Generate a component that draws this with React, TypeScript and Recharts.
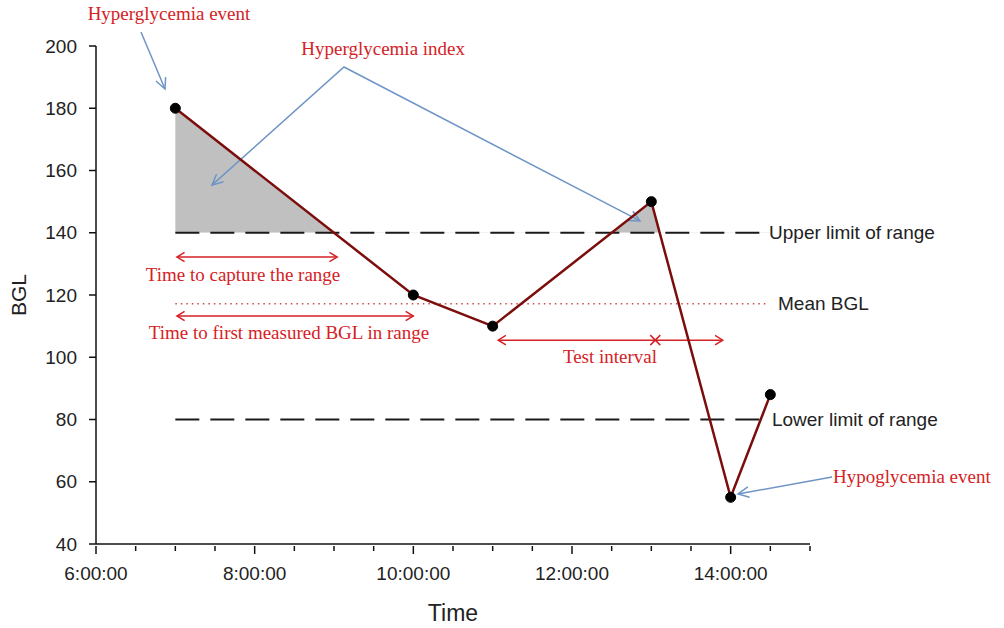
import React from "react";
import {
  LineChart,
  Line,
  XAxis,
  YAxis,
  ReferenceArea,
  ReferenceLine,
} from "recharts";

// measured BGL readings (time in hours of day)
const hours = [7, 10, 11, 13, 14, 14.5];
const bglValues = [180, 120, 110, 150, 55, 88];

const xDomain = [6, 15];
const yDomain = [40, 200];
const xTickHours = [6, 6.5, 7, 7.5, 8, 8.5, 9, 9.5, 10, 10.5, 11, 11.5, 12, 12.5, 13, 13.5, 14, 14.5, 15];
const xTickLabels: Record<number, string> = {
  6: "6:00:00",
  8: "8:00:00",
  10: "10:00:00",
  12: "12:00:00",
  14: "14:00:00",
};
const yTicks = [40, 60, 80, 100, 120, 140, 160, 180, 200];

const upperLimit = 140;
const lowerLimit = 80;
const meanBgl = bglValues.reduce((a, b) => a + b, 0) / bglValues.length;

// annotation anchors, in data units (hours, BGL)
const limitLineSpan = [7, 14.48];
const captureSpan = [7.02, 9.04];
const firstInRangeSpan = [7.02, 10.0];
const testIntervalSpan = [11.07, 13.9];
const testIntervalMark = 13.05;

const data = hours.map((h, i) => ({ time: h, bgl: bglValues[i] }));

const RED = "#d42226";
const BLUE = "#6f95c6";
const SERIF = "'Liberation Serif', 'Times New Roman', serif";
const SANS = "'Liberation Sans', Arial, sans-serif";

type Rect = { x: number; y: number; width: number; height: number };

function scales(r: Rect) {
  const sx = (t: number) => r.x + ((t - xDomain[0]) / (xDomain[1] - xDomain[0])) * r.width;
  const sy = (v: number) => r.y + ((yDomain[1] - v) / (yDomain[1] - yDomain[0])) * r.height;
  return { sx, sy };
}

function head(x1: number, y1: number, x2: number, y2: number, len = 12, ang = 0.45) {
  const a = Math.atan2(y2 - y1, x2 - x1);
  const ax = x2 - len * Math.cos(a - ang);
  const ay = y2 - len * Math.sin(a - ang);
  const bx = x2 - len * Math.cos(a + ang);
  const by = y2 - len * Math.sin(a + ang);
  return `M${ax},${ay} L${x2},${y2} L${bx},${by}`;
}

function GrayFill(props: any) {
  const { sx, sy } = scales(props);
  const base = sy(upperLimit);
  let d = `M${sx(hours[0])},${base}`;
  hours.forEach((h, i) => {
    d += ` L${sx(h)},${sy(bglValues[i])}`;
  });
  d += ` L${sx(hours[hours.length - 1])},${base} Z`;
  return (
    <g>
      <defs>
        <clipPath id="above-upper">
          <rect x={props.x} y={props.y} width={props.width} height={base - props.y} />
        </clipPath>
      </defs>
      <path d={d} fill="#c0c0c0" stroke="none" clipPath="url(#above-upper)" />
    </g>
  );
}

function DoubleArrow({ x1, x2, y }: { x1: number; x2: number; y: number }) {
  return (
    <g stroke={RED} strokeWidth={1.5} fill="none">
      <line x1={x1} y1={y} x2={x2} y2={y} />
      <path d={head(x2, y, x1, y, 9, 0.55)} />
      <path d={head(x1, y, x2, y, 9, 0.55)} />
    </g>
  );
}

function Notes(props: any) {
  const { sx, sy } = scales(props);
  const redText = { fill: RED, fontFamily: SERIF, fontSize: 19 };
  const blackText = { fill: "#222", fontFamily: SANS, fontSize: 19 };

  const a1 = [sx(6.567), sy(204.5), sx(6.87), sy(186.2)];
  const apex = [sx(9.126), sy(193.25)];
  const tipA = [sx(7.462), sy(155.3)];
  const tipB = [sx(12.857), sy(143.8)];
  const hy = [sx(15.278), sy(61.5), sx(14.093), sy(56.06)];

  const tx = sx(testIntervalMark);
  const ty = sy(105.5);

  return (
    <g>
      {/* blue callout arrows */}
      <g stroke={BLUE} strokeWidth={1.5} fill="none">
        <line x1={a1[0]} y1={a1[1]} x2={a1[2]} y2={a1[3]} />
        <path d={head(a1[0], a1[1], a1[2], a1[3])} />
        <polyline points={`${tipA[0]},${tipA[1]} ${apex[0]},${apex[1]} ${tipB[0]},${tipB[1]}`} />
        <path d={head(apex[0], apex[1], tipA[0], tipA[1])} />
        <path d={head(apex[0], apex[1], tipB[0], tipB[1])} />
        <line x1={hy[0]} y1={hy[1]} x2={hy[2]} y2={hy[3]} />
        <path d={head(hy[0], hy[1], hy[2], hy[3])} />
      </g>

      {/* red interval arrows */}
      <DoubleArrow x1={sx(captureSpan[0])} x2={sx(captureSpan[1])} y={sy(132.2)} />
      <DoubleArrow x1={sx(firstInRangeSpan[0])} x2={sx(firstInRangeSpan[1])} y={sy(113.25)} />
      <DoubleArrow x1={sx(testIntervalSpan[0])} x2={sx(testIntervalSpan[1])} y={ty} />
      <g stroke={RED} strokeWidth={1.5}>
        <line x1={tx - 5} y1={ty - 5} x2={tx + 5} y2={ty + 5} />
        <line x1={tx - 5} y1={ty + 5} x2={tx + 5} y2={ty - 5} />
      </g>

      {/* red serif labels */}
      <text x={sx(6.92)} y={sy(208.2)} textAnchor="middle" {...redText}>Hyperglycemia event</text>
      <text x={sx(9.62)} y={sy(197.1)} textAnchor="middle" {...redText}>Hyperglycemia index</text>
      <text x={sx(7.853)} y={sy(124.5)} textAnchor="middle" {...redText}>Time to capture the range</text>
      <text x={sx(8.433)} y={sy(105.9)} textAnchor="middle" {...redText}>Time to first measured BGL in range</text>
      <text x={sx(12.479)} y={sy(98.2)} textAnchor="middle" {...redText}>Test interval</text>
      <text x={sx(15.29)} y={sy(59.6)} textAnchor="start" {...redText}>Hypoglycemia event</text>

      {/* black reference labels */}
      <text x={sx(14.484)} y={sy(upperLimit)} dominantBaseline="central" {...blackText}>Upper limit of range</text>
      <text x={sx(14.597)} y={sy(meanBgl)} dominantBaseline="central" {...blackText}>Mean BGL</text>
      <text x={sx(14.52)} y={sy(lowerLimit)} dominantBaseline="central" {...blackText}>Lower limit of range</text>
    </g>
  );
}

function TimeTick(props: any) {
  const { x, y, payload } = props;
  const v = payload.value as number;
  const label = xTickLabels[v];
  const major = label !== undefined;
  return (
    <g>
      <line x1={x} y1={y} x2={x} y2={y + (major ? 8 : 5)} stroke="#111" strokeWidth={1.5} />
      {major && (
        <text x={x} y={y + 34} textAnchor="middle" fill="#222" fontFamily={SANS} fontSize={19}>
          {label}
        </text>
      )}
    </g>
  );
}

export default function App() {
  return (
    <div style={{ position: "absolute", left: 0, top: 0, background: "#fff" }}>
      <LineChart
        width={1004}
        height={628}
        data={data}
        margin={{ top: 46, right: 194, bottom: 0, left: 0 }}
      >
        <ReferenceArea
          x1={xDomain[0]}
          x2={xDomain[1]}
          y1={yDomain[0]}
          y2={yDomain[1]}
          shape={(p: any) => <GrayFill {...p} />}
        />
        <XAxis
          dataKey="time"
          type="number"
          domain={xDomain}
          ticks={xTickHours}
          interval={0}
          height={84}
          tickSize={0}
          tickLine={false}
          tick={<TimeTick />}
          axisLine={{ stroke: "#111", strokeWidth: 1.5 }}
          label={{
            content: ({ viewBox }: any) => (
              <text
                x={viewBox.x + viewBox.width / 2}
                y={viewBox.y + 77}
                textAnchor="middle"
                fill="#222"
                fontFamily={SANS}
                fontSize={23}
              >
                Time
              </text>
            ),
          }}
        />
        <YAxis
          type="number"
          domain={yDomain}
          ticks={yTicks}
          interval={0}
          width={96}
          tickSize={7}
          tickMargin={12}
          tick={{ fill: "#222", fontFamily: SANS, fontSize: 19 }}
          tickLine={{ stroke: "#111", strokeWidth: 1.5 }}
          axisLine={{ stroke: "#111", strokeWidth: 1.5 }}
          label={{
            content: ({ viewBox }: any) => {
              const cx = 18;
              const cy = viewBox.y + viewBox.height / 2;
              return (
                <text
                  x={cx}
                  y={cy}
                  transform={`rotate(-90 ${cx} ${cy})`}
                  textAnchor="middle"
                  dominantBaseline="central"
                  fill="#222"
                  fontFamily={SANS}
                  fontSize={21}
                >
                  BGL
                </text>
              );
            },
          }}
        />
        <ReferenceLine
          segment={[
            { x: limitLineSpan[0], y: upperLimit },
            { x: limitLineSpan[1], y: upperLimit },
          ]}
          stroke="#1a1a1a"
          strokeWidth={2}
          strokeDasharray="24 11"
        />
        <ReferenceLine
          segment={[
            { x: limitLineSpan[0], y: lowerLimit },
            { x: limitLineSpan[1], y: lowerLimit },
          ]}
          stroke="#1a1a1a"
          strokeWidth={2}
          strokeDasharray="24 11"
        />
        <ReferenceLine
          segment={[
            { x: limitLineSpan[0], y: meanBgl },
            { x: limitLineSpan[1], y: meanBgl },
          ]}
          stroke="#d04848"
          strokeWidth={1.5}
          strokeDasharray="1.5 4"
        />
        <Line
          dataKey="bgl"
          type="linear"
          stroke="#7c0d0d"
          strokeWidth={2.5}
          dot={{ r: 5, fill: "#000", stroke: "#000", strokeWidth: 1 }}
          isAnimationActive={false}
        />
        <ReferenceArea
          x1={xDomain[0]}
          x2={xDomain[1]}
          y1={yDomain[0]}
          y2={yDomain[1]}
          shape={(p: any) => <Notes {...p} />}
        />
      </LineChart>
    </div>
  );
}
